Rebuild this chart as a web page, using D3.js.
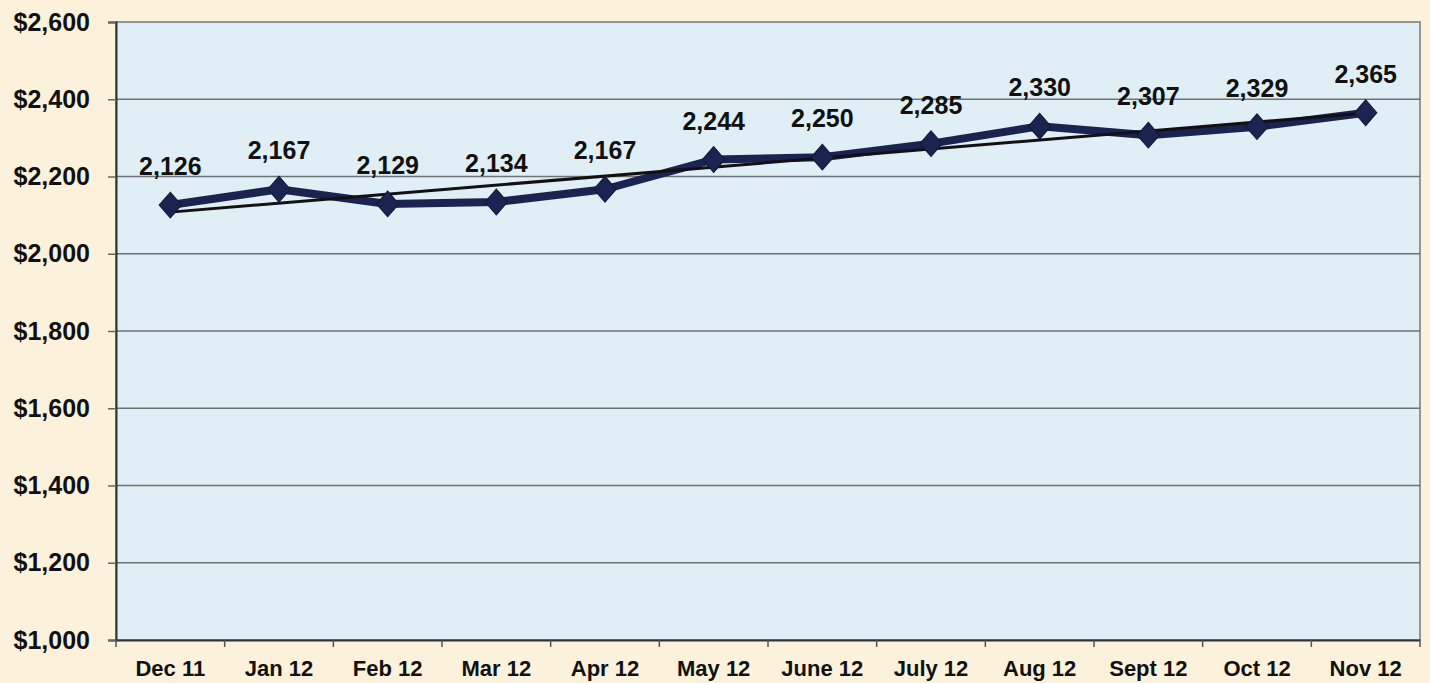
<!DOCTYPE html>
<html>
<head>
<meta charset="utf-8">
<script src="https://cdn.jsdelivr.net/npm/d3@7"></script>
<style>
  body { margin: 0; background: #fcf2dc; }
  svg { display: block; }
  .tick-label { font-family: Arial, "Liberation Sans", sans-serif; font-weight: bold; fill: #111; }
</style>
</head>
<body>
<svg width="1430" height="683"></svg>
<script>
const months = ["Dec 11", "Jan 12", "Feb 12", "Mar 12", "Apr 12", "May 12",
                "June 12", "July 12", "Aug 12", "Sept 12", "Oct 12", "Nov 12"];
const values = [2126, 2167, 2129, 2134, 2167, 2244, 2250, 2285, 2330, 2307, 2329, 2365];
const yTicks = [1000, 1200, 1400, 1600, 1800, 2000, 2200, 2400, 2600];

const data = months.map((m, i) => ({ month: m, value: values[i] }));

const svg = d3.select("svg");
const margin = { top: 22, right: 10, bottom: 43, left: 116 };
const width = +svg.attr("width") - margin.left - margin.right;
const height = +svg.attr("height") - margin.top - margin.bottom;

const x = d3.scaleBand()
    .domain(months)
    .range([0, width]);

const y = d3.scaleLinear()
    .domain([1000, 2600])
    .range([height, 0]);

const g = svg.append("g")
    .attr("transform", `translate(${margin.left},${margin.top})`);

// plot area
g.append("rect")
    .attr("width", width)
    .attr("height", height)
    .attr("fill", "#dfeff5")
    .attr("stroke", "#777")
    .attr("stroke-width", 1.5);

// gridlines
g.selectAll(".grid")
    .data(yTicks.slice(1, -1))
    .enter().append("line")
    .attr("x1", 0)
    .attr("x2", width)
    .attr("y1", d => y(d))
    .attr("y2", d => y(d))
    .attr("stroke", "#6e7475")
    .attr("stroke-width", 1.5);

// y axis
const yAxis = g.append("g")
    .call(d3.axisLeft(y).tickValues(yTicks).tickSize(8).tickPadding(18)
        .tickFormat(d => "$" + d3.format(",")(d)));
yAxis.select(".domain").attr("stroke", "#333").attr("stroke-width", 2);
yAxis.selectAll(".tick line").attr("stroke", "#666").attr("stroke-width", 1.5);
yAxis.selectAll("text")
    .attr("class", "tick-label")
    .style("font-size", "25px");

// x axis
const xAxis = g.append("g")
    .attr("transform", `translate(0,${height})`)
    .call(d3.axisBottom(x).tickSize(0).tickPadding(20));
xAxis.select(".domain").attr("stroke", "#333").attr("stroke-width", 2);
xAxis.selectAll("text")
    .attr("class", "tick-label")
    .style("font-size", "22px");

// boundary tick marks between categories
g.selectAll(".xtick")
    .data(months.concat(["end"]))
    .enter().append("line")
    .attr("x1", (d, i) => i * x.step())
    .attr("x2", (d, i) => i * x.step())
    .attr("y1", height)
    .attr("y2", height + 7)
    .attr("stroke", "#555")
    .attr("stroke-width", 1.5);

const cx = d => x(d.month) + x.bandwidth() / 2;

// linear trend line (least squares over the series)
const n = values.length;
const xs = d3.range(n);
const mx = d3.mean(xs), my = d3.mean(values);
const slope = d3.sum(xs, i => (i - mx) * (values[i] - my)) / d3.sum(xs, i => (i - mx) ** 2);
const icpt = my - slope * mx;
const trend = [0, n - 1].map(i => ({ month: months[i], value: icpt + slope * i }));

// series line
g.append("path")
    .datum(data)
    .attr("fill", "none")
    .attr("stroke", "#1b2450")
    .attr("stroke-width", 8)
    .attr("stroke-linejoin", "round")
    .attr("d", d3.line().x(cx).y(d => y(d.value)));

g.append("path")
    .datum(trend)
    .attr("fill", "none")
    .attr("stroke", "#111")
    .attr("stroke-width", 3)
    .attr("d", d3.line().x(cx).y(d => y(d.value)));

// markers
g.selectAll(".marker")
    .data(data)
    .enter().append("path")
    .attr("class", "marker")
    .attr("d", d3.symbol().type(d3.symbolSquare).size(250))
    .attr("transform", d => `translate(${cx(d)},${y(d.value)}) scale(1,1.15) rotate(45)`)
    .attr("fill", "#1b2450")
    .attr("stroke", "#111a3a")
    .attr("stroke-width", 1);

// data labels
g.selectAll(".label")
    .data(data)
    .enter().append("text")
    .attr("class", "tick-label")
    .attr("x", cx)
    .attr("y", d => y(d.value) - 30)
    .attr("text-anchor", "middle")
    .style("font-size", "25px")
    .text(d => d3.format(",")(d.value));
</script>
</body>
</html>
